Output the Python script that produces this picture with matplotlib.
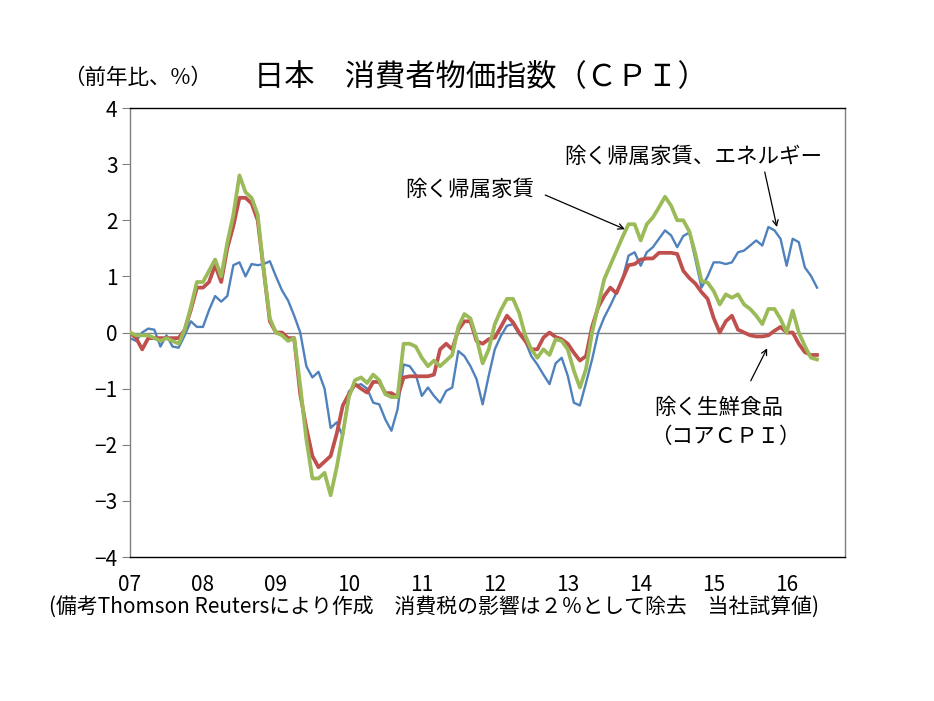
import numpy as np
import matplotlib
matplotlib.use('Agg')
import matplotlib.pyplot as plt

plt.rcParams['font.family'] = ['Noto Sans CJK JP', 'DejaVu Sans']

## Data (monthly, Jan 2007 - Jun 2016, y/y %)

year_labels = ['07', '08', '09', '10', '11', '12', '13', '14', '15', '16']

# 除く帰属家賃、エネルギー
ex_rent_energy = [
    -0.1, -0.15, 0.0, 0.07, 0.05, -0.25, -0.05, -0.25, -0.27, -0.05, 0.2, 0.1,
    0.1, 0.4, 0.65, 0.55, 0.65, 1.2, 1.25, 1.0, 1.22, 1.2, 1.22, 1.27,
    1.0, 0.75, 0.57, 0.3, 0.0, -0.6, -0.8, -0.7, -1.0, -1.7, -1.6, -1.85,
    -1.05, -0.95, -0.92, -1.0, -1.25, -1.28, -1.55, -1.75, -1.37, -0.57, -0.6, -0.75,
    -1.13, -0.98, -1.13, -1.25, -1.04, -0.98, -0.33, -0.42, -0.6, -0.83, -1.28, -0.77,
    -0.3, -0.06, 0.12, 0.15, -0.03, -0.15, -0.42, -0.57, -0.75, -0.92, -0.55, -0.45,
    -0.77, -1.25, -1.3, -0.9, -0.48, 0.0, 0.27, 0.48, 0.71, 0.95, 1.37, 1.43,
    1.19, 1.43, 1.52, 1.67, 1.82, 1.73, 1.52, 1.72, 1.78, 1.3, 0.8, 1.0,
    1.25, 1.25, 1.22, 1.25, 1.43, 1.46, 1.55, 1.64, 1.55, 1.88, 1.82, 1.67,
    1.19, 1.67, 1.61, 1.16, 1.01, 0.8,
]

# 除く生鮮食品（コアＣＰＩ）
core_cpi = [
    0.0, -0.1, -0.3, -0.1, -0.1, -0.1, -0.1, -0.1, -0.1, 0.05, 0.4, 0.8,
    0.8, 0.9, 1.2, 0.9, 1.5, 1.9, 2.4, 2.4, 2.3, 2.0, 1.1, 0.2,
    0.0, 0.0, -0.1, -0.1, -1.1, -1.7, -2.2, -2.4, -2.3, -2.2, -1.8, -1.3,
    -1.1, -0.92, -1.0, -1.07, -0.88, -0.88, -1.08, -1.08, -1.15, -0.8, -0.78, -0.78,
    -0.78, -0.78, -0.75, -0.3, -0.2, -0.3, 0.05, 0.2, 0.2, -0.15, -0.2, -0.12,
    -0.09, 0.1, 0.3, 0.18, 0.0, -0.15, -0.3, -0.3, -0.09, 0.0, -0.08, -0.12,
    -0.2, -0.36, -0.5, -0.42, 0.1, 0.45, 0.65, 0.8, 0.7, 0.95, 1.2, 1.22,
    1.3, 1.32, 1.32, 1.42, 1.42, 1.42, 1.4, 1.1, 0.97, 0.87, 0.72, 0.6,
    0.26, 0.0, 0.2, 0.3, 0.05, 0.0, -0.05, -0.07, -0.07, -0.05, 0.03, 0.1,
    0.0, 0.0, -0.2, -0.35, -0.4, -0.4,
]

# 除く帰属家賃
ex_rent = [
    0.0, -0.05, -0.05, -0.05, -0.1, -0.15, -0.1, -0.15, -0.2, 0.05, 0.45, 0.9,
    0.9, 1.1, 1.3, 1.0, 1.6, 2.1, 2.8, 2.5, 2.4, 2.1, 1.1, 0.25,
    0.0, -0.05, -0.15, -0.1, -0.95, -1.9, -2.6, -2.6, -2.5, -2.9, -2.4, -1.8,
    -1.15, -0.85, -0.8, -0.9, -0.75, -0.85, -1.1, -1.15, -1.15, -0.2, -0.2, -0.25,
    -0.45, -0.6, -0.5, -0.6, -0.5, -0.4, 0.1, 0.33, 0.25, -0.1, -0.55, -0.3,
    0.15, 0.4, 0.6, 0.6, 0.35, -0.05, -0.3, -0.45, -0.3, -0.4, -0.12, -0.15,
    -0.3, -0.68, -0.98, -0.65, 0.0, 0.48, 0.95, 1.2, 1.45, 1.7, 1.93, 1.93,
    1.64, 1.93, 2.05, 2.23, 2.42, 2.26, 2.0, 2.0, 1.8, 1.4, 0.92, 0.89,
    0.74, 0.5, 0.68, 0.62, 0.68, 0.5, 0.42, 0.3, 0.15, 0.42, 0.42, 0.24,
    0.0, 0.39, 0.0, -0.24, -0.45, -0.48,
]

months = np.arange(len(core_cpi))

## Figure

fig = plt.figure(figsize=(9.34, 7.01), dpi=100)
ax = fig.add_axes([0.1392, 0.2054, 0.7655, 0.6405])

ax.axhline(0, color='#808080', lw=1, zorder=1)
ax.plot(months, ex_rent_energy, color='#4F81BD', lw=1.7, zorder=2)
ax.plot(months, core_cpi, color='#C0504D', lw=2.7, zorder=3)
ax.plot(months, ex_rent, color='#9BBB59', lw=2.7, zorder=4)

ax.set_xlim(0, 117.6)
ax.set_ylim(-4, 4)
ax.set_yticks(range(-4, 5))
ax.set_xticks(np.arange(0, 120, 12))
ax.set_xticklabels(year_labels)
ax.tick_params(axis='x', length=0, labelsize=15, pad=12)
ax.tick_params(axis='y', length=6, color='#808080', labelsize=15, pad=3)

for side in ['top', 'bottom']:
    ax.spines[side].set_color('black')
    ax.spines[side].set_linewidth(1)
for side in ['left', 'right']:
    ax.spines[side].set_color('#808080')
    ax.spines[side].set_linewidth(1)

## Annotations

arrow = dict(arrowstyle='->', color='black', lw=0.9, shrinkA=0, shrinkB=0)
ax.text(71.5, 3.13, '除く帰属家賃、エネルギー', fontsize=15.5, va='center', ha='left')
ax.annotate('', xy=(106.4, 1.88), xytext=(104.4, 2.86), arrowprops=arrow)
ax.text(45.2, 2.54, '除く帰属家賃', fontsize=15.5, va='center', ha='left')
ax.annotate('', xy=(81.4, 1.84), xytext=(68.3, 2.45), arrowprops=arrow)
ax.text(86.3, -1.35, '除く生鮮食品', fontsize=15.5, va='center', ha='left')
ax.text(85.6, -1.86, '（コアＣＰＩ）', fontsize=15.5, va='center', ha='left')
ax.annotate('', xy=(104.8, -0.28), xytext=(102.1, -0.86), arrowprops=arrow)

## Titles and note

fig.text(0.068, 0.889, '（前年比、%）', fontsize=15.5, va='center', ha='left')
fig.text(0.272, 0.889, '日本　消費者物価指数（ＣＰＩ）', fontsize=21.8, va='center', ha='left')
fig.text(0.052, 0.134, '(備考Thomson Reutersにより作成　消費税の影響は２％として除去　当社試算値)',
         fontsize=15, va='center', ha='left')

fig.savefig('out.png', dpi=100)
